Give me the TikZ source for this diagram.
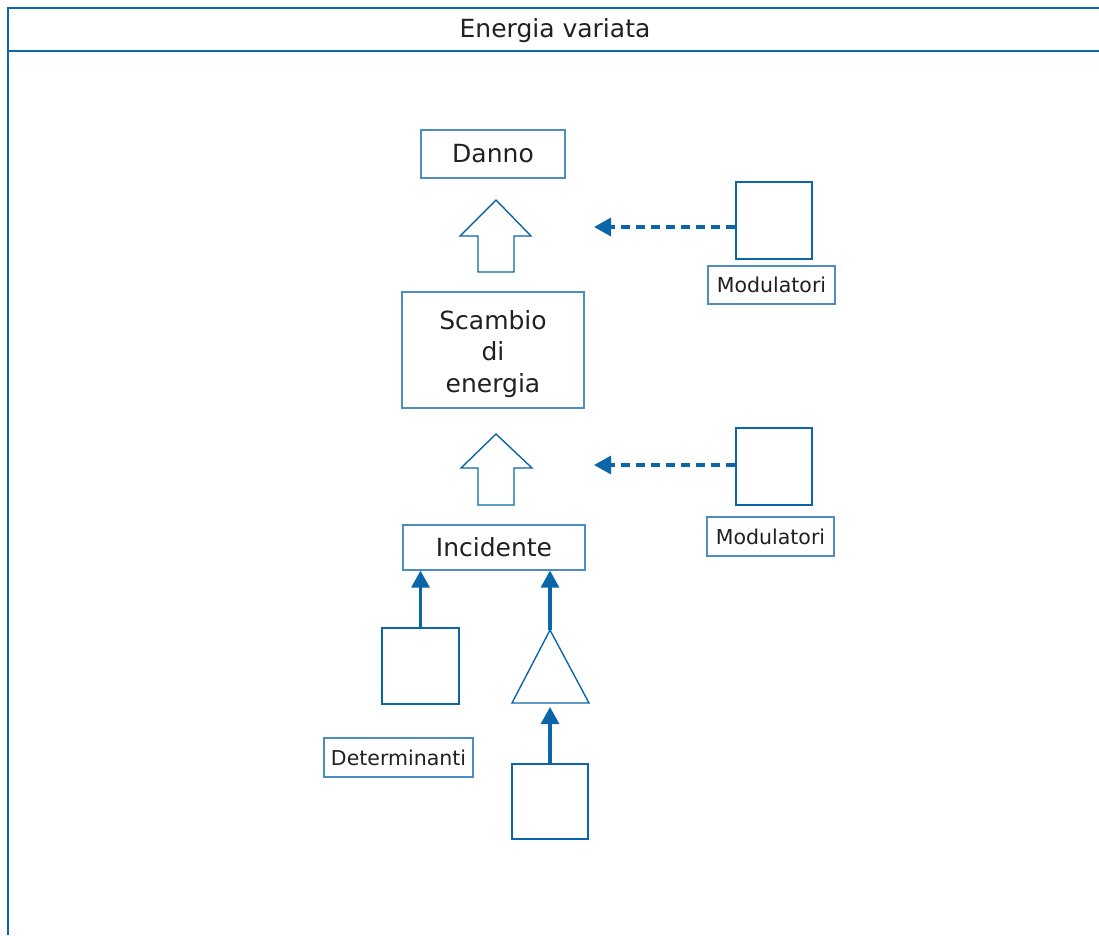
\documentclass[tikz,border=0pt]{standalone}
\usepackage{fontspec}
\setmainfont{DejaVu Sans}
\usetikzlibrary{arrows.meta}
\definecolor{frameblue}{HTML}{0A67AC}
\definecolor{boxblue}{HTML}{4C8DC4}
\definecolor{arrblue}{HTML}{0A66A8}
\definecolor{txt}{HTML}{231F20}
\begin{document}
\begin{tikzpicture}[x=1pt,y=-1pt,
 box/.style={draw=boxblue,line width=1.2pt,inner sep=0pt,text=txt,font=\fontsize{25}{31.5}\selectfont,align=center},
 lbl/.style={draw=boxblue,line width=1.2pt,inner sep=0pt,text=txt,font=\fontsize{20.5}{24}\selectfont},
 sq/.style={draw=arrblue,line width=1.4pt,minimum width=76pt,minimum height=76pt,inner sep=0pt},
 hollow/.style={draw=arrblue,line width=1.4pt,line join=miter},
 solidarr/.style={draw=arrblue,line width=3.2pt,-{Triangle[length=17pt,width=18pt]}},
 dasharr/.style={solidarr,dash pattern=on 9pt off 6pt},
 framel/.style={draw=frameblue,line width=2pt}]
\useasboundingbox (0,0) rectangle (1099,935);
% frame
\draw[framel] (1099,8) -- (8,8) -- (8,935);
\draw[framel] (8,51) -- (1099,51);
\node[text=txt,font=\fontsize{25}{28}\selectfont] (title) at (555,30.5) {Energia variata};
% main boxes
\node[box,minimum width=144pt,minimum height=48pt] (danno) at (493,154) {Danno};
\node[box,minimum width=182pt,minimum height=116pt] (scambio) at (493,350) {};
\node[text=txt,font=\fontsize{25}{31.5}\selectfont,align=center,inner sep=0pt] (scambiot) at ([yshift=-4pt]scambio.center) {Scambio\\di\\energia};
\node[box,minimum width=182pt,minimum height=45pt] (inc) at (494,547.5) {Incidente};
% hollow arrows
\draw[hollow] (496,200) -- (531,236) -- (514,236) -- (514,272) -- (478,272) -- (478,236) -- (460,236) -- cycle;
\draw[hollow] (496,434) -- (532,468) -- (514,468) -- (514,505) -- (478,505) -- (478,468) -- (461,468) -- cycle;
% modulators
\node[sq,minimum height=77pt] (mod1) at (774,220.5) {};
\node[lbl,minimum width=127pt,minimum height=38pt] (mod1l) at (771.5,285) {Modulatori};
\node[sq,minimum height=77pt] (mod2) at (774,466.5) {};
\node[lbl,minimum width=127pt,minimum height=39pt] (mod2l) at (770.5,536.5) {Modulatori};
\coordinate (d1) at (594,227);
\coordinate (d2) at (594,465);
\draw[dasharr] (mod1.west |- d1) -- (d1);
\draw[dasharr] (mod2.west |- d2) -- (d2);
% determinants
\node[sq,minimum width=77pt] (sqL) at (420.5,666) {};
\node[lbl,minimum width=149pt,minimum height=39pt] (det) at (398.5,757.5) {Determinanti};
\coordinate (triA) at (550,630);
\coordinate (triB) at (550,703);
\draw[hollow] (512,703) -- (triA) -- (589,703) -- cycle;
\node[sq,minimum height=75pt] (sqB) at (550,801.5) {};
\draw[solidarr] (sqL.north) -- (sqL.north |- inc.south);
\draw[solidarr] (triA) -- (triA |- inc.south);
\draw[solidarr,shorten >=4pt] (sqB.north) -- (triB);
\end{tikzpicture}
\end{document}
